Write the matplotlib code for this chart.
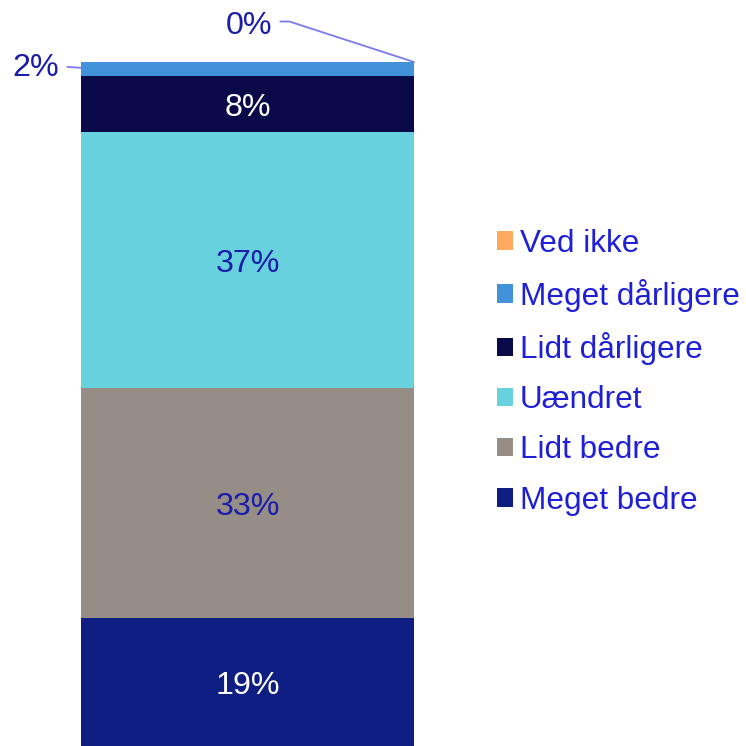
import matplotlib
matplotlib.use("Agg")
import matplotlib.pyplot as plt
from matplotlib.patches import Patch

plt.rcParams['font.family'] = ['Liberation Sans', 'DejaVu Sans']

categories = ["Meget bedre", "Lidt bedre", "Uændret", "Lidt dårligere", "Meget dårligere", "Ved ikke"]
values = [18.7, 33.6, 37.4, 8.2, 2.1, 0.0]
labels = ["19%", "33%", "37%", "8%", "2%", "0%"]
colors = ["#0F1E82", "#958D86", "#67D2DE", "#0A0A4A", "#4292DA", "#FBAA60"]
label_colors = ["white", "#1A1CAA", "#1A1CAA", "white", None, None]

fig = plt.figure(figsize=(7.46, 7.46), dpi=100)
ax = fig.add_axes([81/746, 0, 333/746, (746-62)/746])
ax.set_xlim(-0.5, 0.5)
ax.set_ylim(0, sum(values))
ax.axis('off')

bottom = 0
bars = []
for cat, v, c in zip(categories, values, colors):
    ax.bar(0, v, width=1.0, bottom=bottom, color=c, label=cat, linewidth=0)
    bars.append((bottom, v))
    bottom += v

fs = 23.2
ext_color = "#1A1CAA"
line_color = "#7A7AF0"
for (b0, v), lab, lc in zip(bars[:4], labels[:4], label_colors[:4]):
    ax.annotate(lab, xy=(0, b0 + v / 2), xytext=(0, -4), textcoords='offset pixels',
                ha='center', va='center', color=lc, fontsize=fs)

# 2% label with leader line on the left
b0, v = bars[4]
ax.annotate(labels[4], xy=(-0.5, b0 + v / 2 + 0.2), xycoords='data',
            xytext=(-22, 0), textcoords='offset pixels',
            ha='right', va='center', color=ext_color, fontsize=fs,
            arrowprops=dict(arrowstyle='-', color=line_color, lw=1.3,
                            shrinkA=4, shrinkB=0, relpos=(1, 0.55)))

# 0% label with leader line to top right
b0, v = bars[5]
ax.annotate(labels[5], xy=(0.5, b0 + v), xycoords='data',
            xytext=(-142, 36), textcoords='offset pixels',
            ha='right', va='center', color=ext_color, fontsize=fs,
            arrowprops=dict(arrowstyle='-', color=line_color, lw=1.3,
                            shrinkA=4, shrinkB=0, relpos=(1, 0.65),
                            connectionstyle="angle,angleA=0,angleB=162,rad=0"))

handles = [Patch(facecolor=c, edgecolor='none') for c in colors][::-1]
leg = fig.legend(handles, categories[::-1], loc='upper left',
                 bbox_to_anchor=(484/746, 1 - 216/746), frameon=False,
                 fontsize=fs - 0.5, handlelength=0.52, handleheight=0.52,
                 handletextpad=0.22, labelspacing=0.64, borderaxespad=0)
for t in leg.get_texts():
    t.set_color("#1F1FD8")

fig.savefig("out.png", dpi=100)
